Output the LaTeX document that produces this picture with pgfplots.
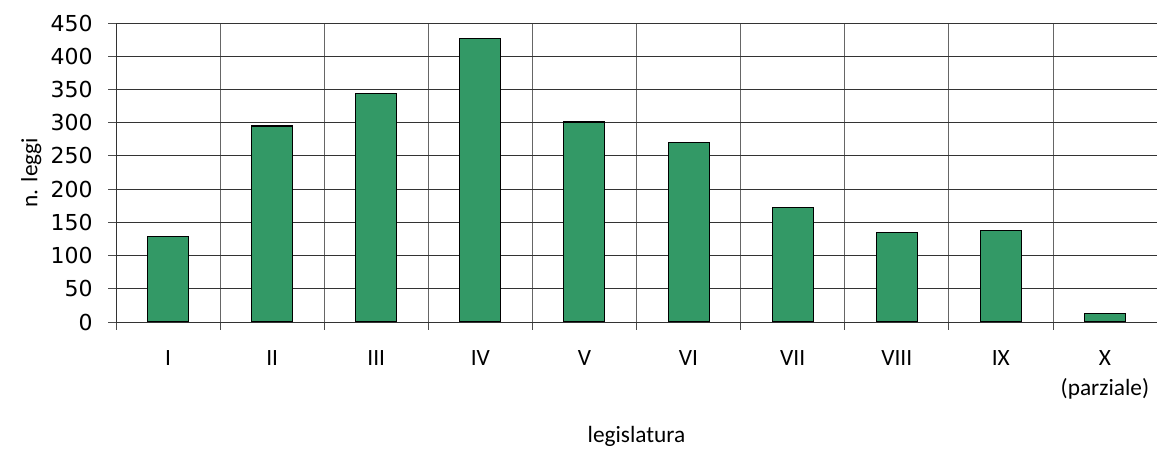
\documentclass[border=0pt]{standalone}
\usepackage{pgfplots}
\pgfplotsset{compat=1.18}
\usepackage{fontspec}
\setmainfont{Carlito}
\newfontfamily\numfont{DejaVu Sans}
\definecolor{barfill}{HTML}{339966}
\begin{document}
\begin{tikzpicture}
\begin{axis}[
  scale only axis,
  width=780.75pt,
  height=224.25pt,
  ybar,
  bar width=30.75pt,
  xmin=0.5, xmax=10.5,
  ymin=0, ymax=450,
  ytick={0,50,...,450},
  xtick={1,...,10},
  xticklabels={I,II,III,IV,V,VI,VII,VIII,IX,{X\\(parziale)}},
  minor xtick={0.5,1.5,...,10.5},
  major x tick style={draw=none},
  xminorgrids=true,
  ymajorgrids=true,
  grid style={black!80, line width=0.6pt},
  minor grid style={black!60, line width=0.6pt},
  axis x line*=bottom,
  axis y line*=left,
  axis line style={black!80, line width=0.6pt, -},
  tick style={black!70, line width=0.6pt},
  tick align=outside,
  major tick length=6pt,
  minor tick length=6pt,
  /pgf/number format/assume math mode=true,
  yticklabel style={font=\numfont\fontsize{16.5}{18}\selectfont, xshift=-8pt},
  xticklabel style={font=\fontsize{17.5}{22.5}\selectfont, align=center, anchor=north, yshift=-12pt},
  ylabel={n. leggi},
  ylabel style={font=\fontsize{17.5}{20}\selectfont},
  xlabel={legislatura},
  xlabel style={font=\fontsize{17.5}{20}\selectfont, at={(axis description cs:0.5,0)}, anchor=center, yshift=-85.5pt},
]
\addplot[fill=barfill, draw=black, line width=0.8pt] coordinates {
  (1,128) (2,295) (3,344) (4,426) (5,301)
  (6,270) (7,172) (8,135) (9,138) (10,13)
};
\end{axis}
\pgfresetboundingbox
\path (-87pt,-98.25pt) rectangle (780.75pt,241.5pt);
\end{tikzpicture}
\end{document}
